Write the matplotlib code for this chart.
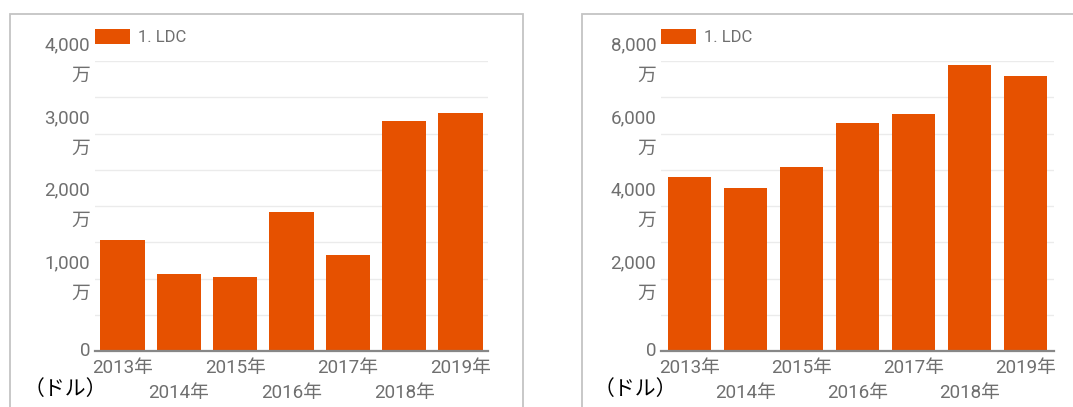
"""LDC の年次推移（2 枚の棒グラフを横に並べる）."""
import matplotlib
matplotlib.use("Agg")
import matplotlib.pyplot as plt
from matplotlib.patches import Rectangle

plt.rcParams["font.family"] = ["Roboto", "Noto Sans CJK JP"]

# --- データ（単位: 万ドル） ---
years = ["2013年", "2014年", "2015年", "2016年", "2017年", "2018年", "2019年"]
left_values = [1530, 1062, 1016, 1917, 1328, 3168, 3287]
right_values = [4790, 4497, 5085, 6290, 6530, 7890, 7586]
series_name = "1. LDC"
unit_label = "（ドル）"

left_major = [0, 1000, 2000, 3000, 4000]
left_minor = [500, 1500, 2500, 3500]
right_major = [0, 2000, 4000, 6000, 8000]
right_minor = [1000, 3000, 5000, 7000]

BAR = "#e65100"
GRID = "#ebebeb"
TEXT = "#6f6f6f"

W, H = 1073, 407
fig = plt.figure(figsize=(W / 100, H / 100), dpi=100)


def px_axes(x0, x1, ytop, ybot):
    return fig.add_axes([x0 / W, 1 - ybot / H, (x1 - x0) / W, (ybot - ytop) / H])


def ytick_text(v):
    return "0" if v == 0 else f"{v:,}\n万"


def draw(ax, values, major, minor, width, xpad):
    ax.bar(range(len(values)), values, width=width, color=BAR, label=series_name, zorder=2)
    ax.set_xlim(-0.5 + xpad, len(values) - 0.5 - xpad)
    ax.set_ylim(0, major[-1])
    ax.set_axisbelow(True)
    for s in ax.spines.values():
        s.set_visible(False)
    ax.axhline(0, color="#878787", lw=1.6, zorder=3, clip_on=False)

    ax.set_yticks(major)
    ax.set_yticklabels([ytick_text(v) for v in major], va="center",
                       multialignment="right", linespacing=1.9)
    ax.set_yticks(minor, minor=True)
    ax.grid(True, which="both", axis="y", color=GRID, lw=1)

    # 偶数年は 1 段目、奇数年は 2 段目
    ax.set_xticks(range(len(years)))
    ax.set_xticklabels([y if i % 2 == 0 else "\n" + y for i, y in enumerate(years)],
                       linespacing=1.45)
    ax.tick_params(axis="both", which="both", length=0, labelsize=13.5, colors=TEXT)
    ax.tick_params(axis="x", pad=6)
    ax.tick_params(axis="y", pad=3.5)


ax1 = px_axes(95, 488, 61, 351)
draw(ax1, left_values, left_major, left_minor, 0.79, 0.01)
ax2 = px_axes(661, 1054, 61, 351)
draw(ax2, right_values, right_major, right_minor, 0.76, -0.01)

for ax, x0 in ((ax1, 95), (ax2, 661)):
    leg = ax.legend(loc="upper left", bbox_to_anchor=(x0 / W, 1 - 29 / H),
                    bbox_transform=fig.transFigure, frameon=False, fontsize=12,
                    handlelength=2.1, handleheight=1.0, handletextpad=0.5,
                    borderpad=0, borderaxespad=0)
    for t in leg.get_texts():
        t.set_color(TEXT)

# パネルの枠
for x0, x1 in ((9.5, 523), (582, 1200)):
    fig.add_artist(Rectangle((x0 / W, -0.1), (x1 - x0) / W, 1 - 14 / H + 0.1,
                             transform=fig.transFigure, fill=False,
                             edgecolor="#c4c4c4", lw=1.3))

for x in (24, 594):
    fig.text(x / W, 1 - 389 / H, unit_label, ha="left", va="center", fontsize=15,
             color="black", family=["Noto Sans CJK JP"])

fig.savefig("out.png", dpi=100)
